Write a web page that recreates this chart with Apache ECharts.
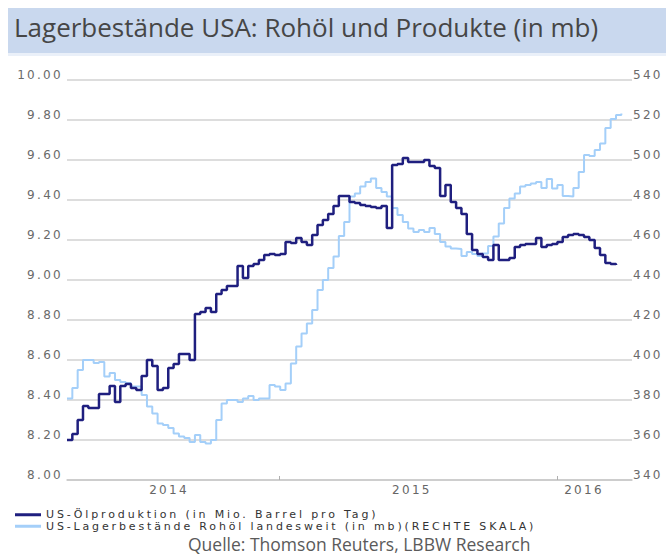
<!DOCTYPE html>
<html>
<head>
<meta charset="utf-8">
<script src="https://cdn.jsdelivr.net/npm/echarts@6/dist/echarts.min.js"></script>
<style>
  html, body { margin: 0; padding: 0; background: #fff; }
  #chart { width: 666px; height: 555px; }
  #chart svg text[style*="DejaVu"], #chart svg text[font-family*="DejaVu"] { letter-spacing: 2.3px; }
  #chart svg text[style*="Verdana"], #chart svg text[font-family*="Verdana"] { letter-spacing: 2.85px; }
</style>
</head>
<body>
<div id="chart"></div>
<script>
// Weekly observations starting on this Friday
const firstWeek = '2014-03-28';

// US-Ölproduktion (Mio. Barrel pro Tag), left axis
const oilProduction = [
  8.20, 8.23, 8.30, 8.37, 8.36, 8.36, 8.43, 8.43, 8.47, 8.39,
  8.47, 8.48, 8.46, 8.45, 8.52, 8.60, 8.57, 8.45, 8.46, 8.56,
  8.58, 8.63, 8.63, 8.60, 8.83, 8.84, 8.86, 8.84, 8.93, 8.95,
  8.97, 8.97, 9.07, 9.01, 9.07, 9.08, 9.10, 9.125, 9.13, 9.125,
  9.13, 9.19, 9.185, 9.21, 9.19, 9.175, 9.225, 9.275, 9.30, 9.33,
  9.37, 9.42, 9.42, 9.39, 9.385, 9.375, 9.37, 9.365, 9.36, 9.37,
  9.26, 9.575, 9.58, 9.61, 9.59, 9.59, 9.59, 9.60, 9.57, 9.56,
  9.42, 9.475, 9.39, 9.36, 9.33, 9.23, 9.15, 9.13, 9.115, 9.10,
  9.175, 9.10, 9.10, 9.11, 9.165, 9.175, 9.18, 9.18, 9.21, 9.165,
  9.175, 9.18, 9.19, 9.215, 9.225, 9.23, 9.225, 9.215, 9.20, 9.16,
  9.125, 9.085, 9.08, 9.075
];

// US-Lagerbestände Rohöl (mb), right axis
const crudeStocks = [
  380.8, 386, 395, 400, 400, 398.5, 399, 391.7, 393.5, 390,
  389, 388.5, 386.7, 386.7, 382.5, 376.7, 373.3, 368.3, 367.5, 366,
  363.3, 361.7, 361, 359, 362.5, 359, 358.3, 360, 370, 378.3,
  380, 380, 379, 380.8, 382, 380, 380.8, 380.8, 387.5, 386.7,
  385, 388.3, 398.3, 406.7, 413.3, 418.3, 425, 435, 440, 446,
  451.7, 462, 469, 481.7, 483.3, 486.7, 489, 490.8, 486, 484,
  481.7, 476, 472.5, 469, 465.8, 464, 465, 464, 466, 463,
  459, 456.7, 455.8, 455.5, 452, 454, 453, 452, 453.3, 457,
  461.7, 468.3, 476, 480.8, 483.3, 486.7, 487.5, 488.3, 489, 486,
  490.5, 485.8, 487.5, 482, 481.7, 486, 494, 502.5, 502, 505,
  508.3, 516, 520.5, 522.5, 523.3
];

const seriesNames = [
  'US-Ölproduktion (in Mio. Barrel pro Tag)',
  'US-Lagerbestände Rohöl landesweit (in mb)(RECHTE SKALA)'
];
const yearLabels = ['2014', '2015', '2016'];
const yearLabelDates = ['2014-08-09', '2015-06-24', '2016-02-05'];
const yearTickDates = ['2015-01-01', '2016-01-01'];
const axisStart = '2014-03-28';
const axisEnd = '2016-04-08';
const titleText = 'Lagerbestände USA: Rohöl und Produkte (in mb)';
const sourceText = 'Quelle: Thomson Reuters, LBBW Research';

const DAY = 86400000;
const toUTC = s => Date.parse(s + 'T00:00:00Z');
const t0 = toUTC(firstWeek);
const maxLen = Math.max(oilProduction.length, crudeStocks.length);
const weeks = [];
for (let i = 0; i < maxLen; i++) weeks.push(t0 + i * 7 * DAY);

const prodData = oilProduction.map((v, i) => [weeks[i], v]);
const stockData = crudeStocks.map((v, i) => [weeks[i], v]);
const labelPos = yearLabelDates.map(toUTC);

const chart = echarts.init(document.getElementById('chart'), null, { renderer: 'svg' });
const axisFont = "'DejaVu Sans'";
chart.setOption({
  animation: false,
  backgroundColor: '#ffffff',
  graphic: [
    { type: 'rect', left: 8, top: 8, shape: { width: 658, height: 45 }, style: { fill: '#c9d8ee' }, z: -1 },
    { type: 'rect', left: 8, top: 53, shape: { width: 658, height: 3 }, style: { fill: '#eaf0f9' }, z: -1 }
  ],
  title: [
    { text: titleText, left: 14, top: 14, padding: 0,
      textStyle: { fontFamily: 'Open Sans', fontSize: 26, fontWeight: 'normal', color: '#464646' } },
    { text: sourceText, left: 188, top: 535, padding: 0,
      textStyle: { fontFamily: 'Open Sans', fontSize: 17.5, lineHeight: 17, fontWeight: 'normal', color: '#5a5a5a' } }
  ],
  legend: {
    orient: 'vertical', left: 15, top: 509, itemGap: 0, itemWidth: 26, itemHeight: 3,
    icon: 'rect', padding: 0,
    textStyle: { fontFamily: "Verdana, 'DejaVu Sans'", fontSize: 11, lineHeight: 11.5, color: '#333' },
    data: seriesNames
  },
  grid: { left: 67, right: 34, top: 80, bottom: 75, containLabel: false },
  xAxis: {
    type: 'value', min: toUTC(axisStart), max: toUTC(axisEnd),
    axisLine: { show: true, lineStyle: { color: '#c8c8c8', width: 1.5 } },
    axisTick: { show: true, inside: true, length: 4, customValues: yearTickDates.map(toUTC), lineStyle: { color: '#b0b0b0' } },
    axisLabel: {
      customValues: labelPos,
      formatter: v => { const k = labelPos.indexOf(v); return k >= 0 ? yearLabels[k] : ''; },
      fontFamily: axisFont, fontSize: 12, color: '#666', margin: 4
    },
    splitLine: { show: false }
  },
  yAxis: [
    { type: 'value', min: 8, max: 10, interval: 0.2, position: 'left',
      axisLine: { show: false }, axisTick: { show: false },
      axisLabel: { formatter: v => v.toFixed(2), fontFamily: axisFont, fontSize: 12, color: '#6a6a6a',
                   margin: 4, verticalAlign: 'bottom', lineHeight: 10 },
      splitLine: { lineStyle: { color: '#d2d2d2', width: 1.5 } } },
    { type: 'value', min: 340, max: 540, interval: 20, position: 'right',
      axisLine: { show: false }, axisTick: { show: false },
      axisLabel: { fontFamily: axisFont, fontSize: 12, color: '#6a6a6a',
                   margin: 1, verticalAlign: 'bottom', lineHeight: 10 },
      splitLine: { show: false } }
  ],
  series: [
    { name: seriesNames[0], type: 'line', yAxisIndex: 0, step: 'end', data: prodData,
      showSymbol: false, z: 3, lineStyle: { color: '#1f1f7f', width: 2.5 }, itemStyle: { color: '#1f1f7f' } },
    { name: seriesNames[1], type: 'line', yAxisIndex: 1, step: 'end', data: stockData,
      showSymbol: false, z: 2, lineStyle: { color: '#a4cff9', width: 2 }, itemStyle: { color: '#a4cff9' } }
  ]
});
</script>
</body>
</html>
